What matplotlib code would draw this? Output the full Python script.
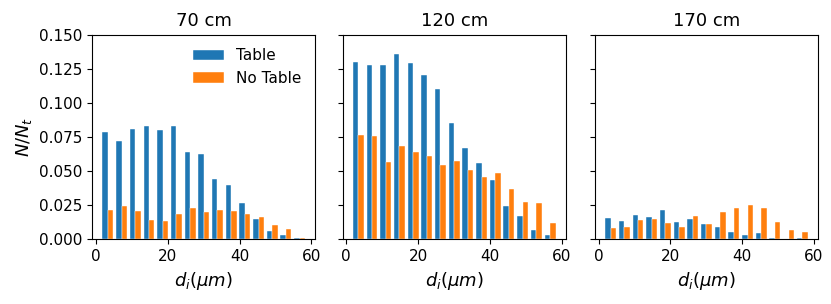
import numpy as np
import matplotlib
matplotlib.use("Agg")
import matplotlib.pyplot as plt

titles = ["70 cm", "120 cm", "170 cm"]
bin_edges = np.linspace(1.44, 58.65, 16)

table_70 = [0.0788, 0.0724, 0.0810, 0.0827, 0.0798, 0.0832, 0.0637, 0.0624,
            0.0441, 0.0398, 0.0268, 0.0146, 0.0061, 0.0032, 0.0010]
notable_70 = [0.0215, 0.0244, 0.0207, 0.0141, 0.0134, 0.0185, 0.0229, 0.0200,
              0.0215, 0.0210, 0.0188, 0.0161, 0.0105, 0.0076, 0.0010]
table_120 = [0.1300, 0.1280, 0.1280, 0.1356, 0.1295, 0.1202, 0.1100, 0.0856,
             0.0670, 0.0563, 0.0437, 0.0246, 0.0171, 0.0066, 0.0032]
notable_120 = [0.0768, 0.0756, 0.0566, 0.0683, 0.0641, 0.0610, 0.0544, 0.0576,
               0.0507, 0.0459, 0.0483, 0.0368, 0.0271, 0.0266, 0.0122]
table_170 = [0.0156, 0.0134, 0.0180, 0.0166, 0.0212, 0.0129, 0.0149, 0.0112,
             0.0090, 0.0054, 0.0034, 0.0046, 0.0010, 0.0000, 0.0010]
notable_170 = [0.0083, 0.0093, 0.0139, 0.0151, 0.0122, 0.0093, 0.0171, 0.0112,
               0.0202, 0.0227, 0.0251, 0.0227, 0.0129, 0.0068, 0.0054]

series = [(table_70, notable_70), (table_120, notable_120), (table_170, notable_170)]

plt.rcParams['font.size'] = 11
fig = plt.figure(figsize=(8.31, 3.04), dpi=100)
W, H = 831, 304
lefts = [92.3, 342.7, 595]
aw = 223
top, bot = 34.7, 239.3
axes = []
for i in range(3):
    ax = fig.add_axes([lefts[i] / W, (H - bot) / H, aw / W, (bot - top) / H],
                      sharey=axes[0] if axes else None)
    axes.append(ax)

w = np.diff(bin_edges)[0]
left_edges = bin_edges[:-1]
for i, ax in enumerate(axes):
    t, n = series[i]
    ax.bar(left_edges + 0.1 * w, t, width=0.4 * w, align='edge', color='#1f77b4',
           edgecolor='white', linewidth=0.3, label='Table')
    ax.bar(left_edges + 0.5 * w, n, width=0.4 * w, align='edge', color='#ff7f0e',
           edgecolor='white', linewidth=0.3, label='No Table')
    ax.set_title(titles[i], fontsize=13)
    ax.set_xlabel(r'$d_i(\mu m)$', fontsize=13)
    ax.set_xticks([0, 20, 40, 60])
    ax.set_xlim(-1.0, 61.1)
    if i > 0:
        ax.tick_params(labelleft=False)

axes[0].set_ylim(0, 0.15)
axes[0].set_yticks([0, 0.025, 0.05, 0.075, 0.1, 0.125, 0.15])
axes[0].set_ylabel(r'$N/N_t$', fontsize=13)
axes[0].legend(frameon=False, loc='upper right')

fig.savefig('out.png', dpi=100)
